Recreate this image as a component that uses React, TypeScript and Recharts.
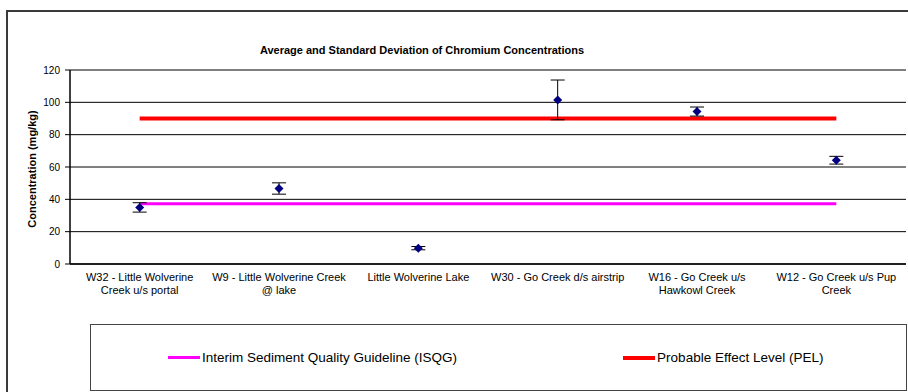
import React from 'react';
import { ComposedChart, Line, XAxis, YAxis, CartesianGrid, ErrorBar, Text } from 'recharts';

const FONT = 'Arial, "Liberation Sans", sans-serif';

const sites = [
  'W32 - Little Wolverine Creek u/s portal',
  'W9 - Little Wolverine Creek @ lake',
  'Little Wolverine Lake',
  'W30 - Go Creek d/s airstrip',
  'W16 - Go Creek u/s Hawkowl Creek',
  'W12 - Go Creek u/s Pup Creek',
];
const avgCr = [35.0, 46.7, 9.8, 101.5, 94.3, 64.2];
const sdCr = [2.9, 3.5, 1.0, 12.3, 2.8, 2.4];
const isqgLevel = [37.3, 37.3, 37.3, 37.3, 37.3, 37.3];
const pelLevel = [90, 90, 90, 90, 90, 90];
const yTicks = [0, 20, 40, 60, 80, 100, 120];
const siteEdges = [0, 1, 2, 3, 4, 5, 6];

const ISQG_NAME = 'Interim Sediment Quality Guideline (ISQG)';
const PEL_NAME = 'Probable Effect Level (PEL)';

const data = sites.map((name, i) => ({
  name,
  avg: avgCr[i],
  sd: sdCr[i],
  isqg: isqgLevel[i],
  pel: pelLevel[i],
}));

const legendItems = [
  { name: ISQG_NAME, color: '#FF00FF', thick: 3 },
  { name: PEL_NAME, color: '#FF0000', thick: 4 },
];

const Diamond = (props: any) => {
  const { cx, cy } = props;
  if (cx == null || cy == null) return null;
  const r = 4.5;
  return <path d={`M${cx},${cy - r}L${cx + r},${cy}L${cx},${cy + r}L${cx - r},${cy}Z`} fill="#000080" />;
};

const SiteTick = (props: any) => {
  const { x, y, payload } = props;
  return (
    <Text
      x={x}
      y={y}
      width={137}
      textAnchor="middle"
      verticalAnchor="start"
      lineHeight="1.2em"
      fill="#000"
      fontSize="11px"
      fontFamily={FONT}
      style={{ fontSize: '11px', fontFamily: FONT }}
    >
      {payload.value}
    </Text>
  );
};

const YTitle = (props: any) => {
  const { viewBox } = props;
  const x = viewBox.x + 12;
  const y = viewBox.y + viewBox.height / 2 + 2;
  return (
    <text
      x={x}
      y={y}
      transform={`rotate(-90, ${x}, ${y})`}
      textAnchor="middle"
      dominantBaseline="central"
      fontSize={11}
      fontWeight="bold"
      fontFamily={FONT}
      fill="#000"
    >
      Concentration (mg/kg)
    </text>
  );
};

export default function App() {
  return (
    <div style={{ position: 'absolute', left: 0, top: 0, width: 908, height: 392, overflow: 'hidden', background: '#fff', fontFamily: FONT }}>
      <div style={{ position: 'absolute', left: 6, top: 10, width: 960, height: 440, border: '2px solid #3a3a3a' }} />
      <div style={{ position: 'absolute', left: 0, top: 44, width: 844, textAlign: 'center', fontSize: 11, fontWeight: 'bold', lineHeight: '13px', color: '#000' }}>
        Average and Standard Deviation of Chromium Concentrations
      </div>
      <div style={{ position: 'absolute', left: 0, top: 0 }}>
        <ComposedChart width={908} height={392} data={data} margin={{ top: 70, right: 2, left: 20, bottom: 67 }}>
          <CartesianGrid xAxisId="site" yAxisId="left" vertical={false} stroke="#000" strokeWidth={1} />
          <XAxis
            xAxisId="band"
            type="number"
            domain={[0, 6]}
            ticks={siteEdges}
            tick={false}
            tickLine={{ stroke: '#000' }}
            tickSize={5}
            axisLine={{ stroke: '#000', strokeWidth: 1.5 }}
            height={1}
            allowDataOverflow
          />
          <XAxis
            xAxisId="site"
            dataKey="name"
            scale="band"
            interval={0}
            height={60}
            tickLine={false}
            axisLine={false}
            tick={<SiteTick />}
          />
          <YAxis
            yAxisId="left"
            width={50}
            domain={[0, 120]}
            ticks={yTicks}
            tickSize={5}
            tickMargin={5}
            axisLine={{ stroke: '#000', strokeWidth: 1.5 }}
            tickLine={{ stroke: '#000' }}
            tick={{ fontSize: 10, fill: '#000', fontFamily: FONT }}
            label={<YTitle />}
          />
          <YAxis
            yAxisId="right"
            orientation="right"
            width={0}
            domain={[0, 120]}
            tick={false}
            tickLine={false}
            axisLine={{ stroke: '#808080' }}
          />
          <Line
            xAxisId="site"
            yAxisId="left"
            dataKey="isqg"
            name={ISQG_NAME}
            stroke="#FF00FF"
            strokeWidth={3}
            dot={false}
            activeDot={false}
            isAnimationActive={false}
          />
          <Line
            xAxisId="site"
            yAxisId="left"
            dataKey="pel"
            name={PEL_NAME}
            stroke="#FF0000"
            strokeWidth={4}
            dot={false}
            activeDot={false}
            isAnimationActive={false}
          />
          <Line
            xAxisId="site"
            yAxisId="left"
            dataKey="avg"
            stroke="none"
            legendType="none"
            dot={<Diamond />}
            activeDot={false}
            isAnimationActive={false}
          >
            <ErrorBar dataKey="sd" direction="y" width={7} stroke="#000" strokeWidth={1} />
          </Line>
        </ComposedChart>
      </div>
      <div
        style={{
          position: 'absolute',
          left: 90,
          top: 324,
          width: 817,
          height: 67,
          boxSizing: 'border-box',
          border: '1.5px solid #444',
          display: 'flex',
          alignItems: 'center',
          paddingLeft: 77,
          fontSize: 13.5,
          color: '#000',
        }}
      >
        {legendItems.map((it, i) => (
          <div key={it.name} style={{ display: 'flex', alignItems: 'center', marginLeft: i === 0 ? 0 : 166 }}>
            <span style={{ display: 'inline-block', width: 32, height: it.thick, background: it.color }} />
            <span style={{ marginLeft: 2 }}>{it.name}</span>
          </div>
        ))}
      </div>
    </div>
  );
}
